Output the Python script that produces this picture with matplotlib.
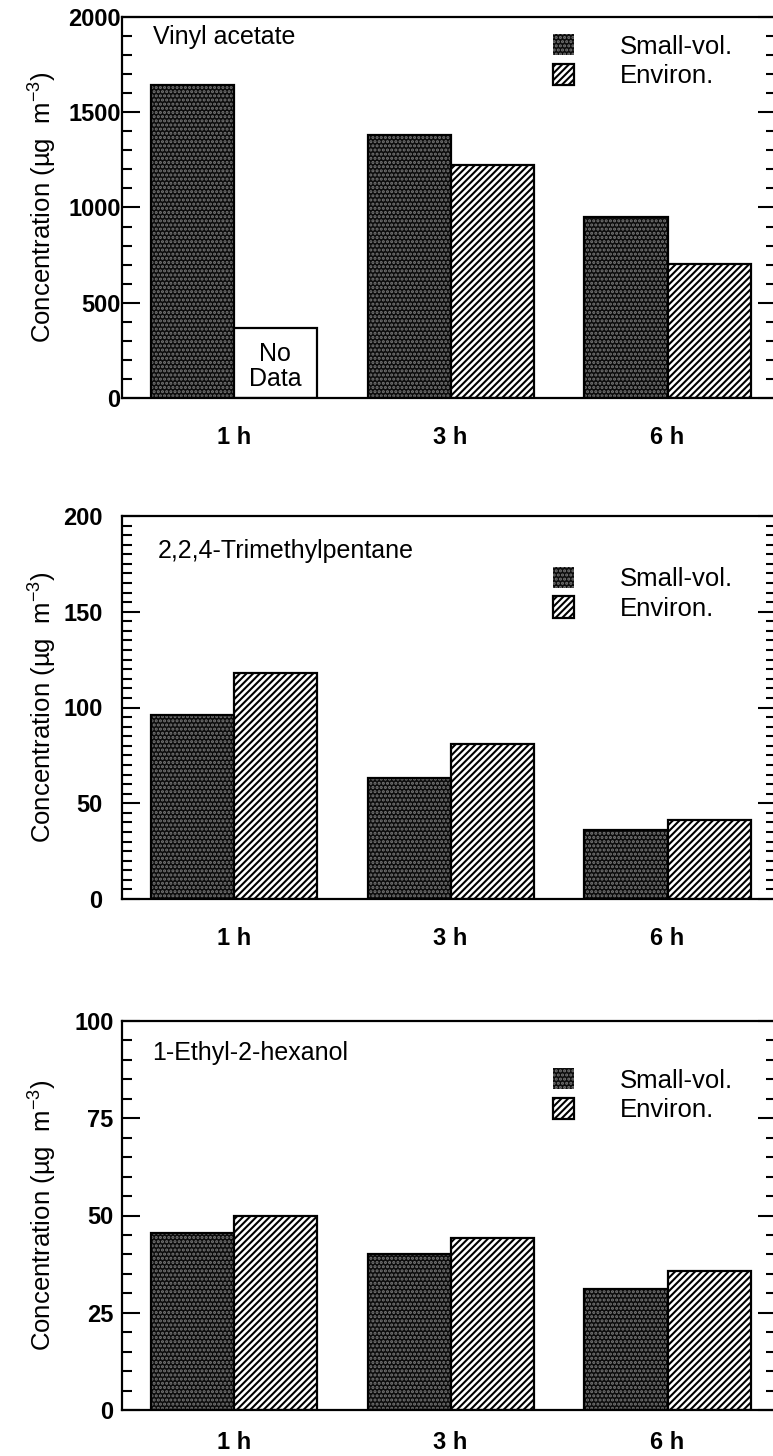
import matplotlib.pyplot as plt
import numpy as np
from matplotlib.ticker import MultipleLocator

plt.rcParams['font.family'] = ['Liberation Sans', 'DejaVu Sans']
plt.rcParams['mathtext.fontset'] = 'custom'
plt.rcParams['mathtext.rm'] = 'Liberation Sans'
plt.rcParams['mathtext.default'] = 'regular'
plt.rcParams['hatch.linewidth'] = 1.5

# data
times = ['1 h', '3 h', '6 h']
compounds = ['Vinyl acetate', '2,2,4-Trimethylpentane', '1-Ethyl-2-hexanol']
small_vol = [[1645, 1380, 948], [96, 63, 36], [45.5, 40, 31]]
environ = [[np.nan, 1225, 702], [118, 81, 41], [50, 44.3, 35.8]]
no_data_box = 370   # height of the empty "No Data" box in the first panel
ymax = [2000, 200, 100]
major = [500, 50, 25]
minor = [100, 5, 5]

W, H = 773, 1456
fig = plt.figure(figsize=(W / 100, H / 100), dpi=100)

# panel frames in pixels: (top, bottom)
frames = [(17, 398), (516, 899), (1021, 1410)]
left, right = 122, 776
ypad = [1, 14, 6]
xpad = [20, 20, 15]
title_pos = [(153, 44), (158, 558), (152, 1060)]
leg_top = [0.955, 0.868, 0.879]

x = np.arange(len(times))
w = 0.383
fs = 18

for i in range(3):
    top, bot = frames[i]
    ax = fig.add_axes([left / W, 1 - bot / H, (right - left) / W, (bot - top) / H])

    sv = ax.bar(x - w / 2, small_vol[i], w, facecolor='#0c0c0c', edgecolor='#787878',
                hatch='....', linewidth=0, label='Small-vol.')
    ax.bar(x - w / 2, small_vol[i], w, fill=False, edgecolor='k', linewidth=1.6)
    ev = ax.bar(x + w / 2, environ[i], w, facecolor='white', edgecolor='k',
                hatch='/////', linewidth=1.6, label='Environ.')

    if i == 0:
        ax.bar(x[0] + w / 2, no_data_box, w, facecolor='white', edgecolor='k', linewidth=1.6)
        ax.text(x[0] + w / 2, no_data_box * 0.45, 'No\nData', ha='center', va='center',
                fontsize=fs, linespacing=1.05)

    ax.set_xlim(-0.515, 2.5)
    ax.set_ylim(0, ymax[i])
    ax.set_xticks(x)
    ax.set_xticklabels(times, fontsize=17, fontweight='bold')
    ax.tick_params(axis='x', length=0, pad=xpad[i])
    ax.yaxis.set_major_locator(MultipleLocator(major[i]))
    ax.yaxis.set_minor_locator(MultipleLocator(minor[i]))
    ax.tick_params(axis='y', which='both', direction='in', left=True, right=True,
                   width=1.5, labelsize=17, pad=ypad[i])
    ax.tick_params(axis='y', which='major', length=13)
    ax.tick_params(axis='y', which='minor', length=7)
    for lab in ax.get_yticklabels():
        lab.set_fontweight('bold')
    for sp in ax.spines.values():
        sp.set_linewidth(1.6)

    ax.set_ylabel('Concentration (µg  m$^{-3}$)', fontsize=18.5)
    ax.yaxis.label.set_va('center')
    ax.yaxis.set_label_coords(43 / W, 1 - (top + bot) / 2 / H, transform=fig.transFigure)

    tx, ty = title_pos[i]
    fig.text(tx / W, 1 - ty / H, compounds[i], fontsize=fs, va='baseline')

    ax.legend(handles=[sv, ev], loc='upper left', bbox_to_anchor=(0.659, leg_top[i]),
              frameon=False, fontsize=18.5, borderpad=0, borderaxespad=0,
              handlelength=0.8, handleheight=0.9, handletextpad=1.8, labelspacing=0.2)

fig.savefig('out.png', dpi=100)
